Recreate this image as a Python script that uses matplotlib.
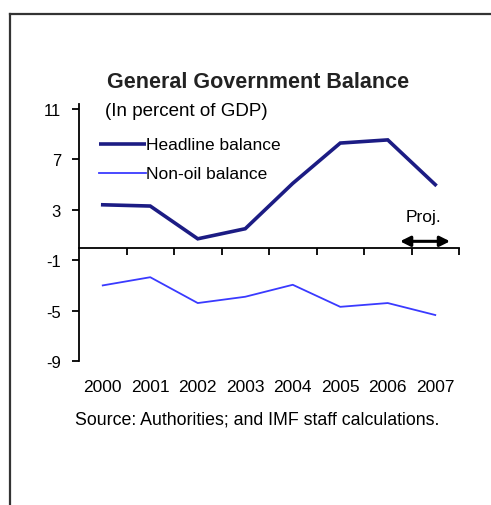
import matplotlib.pyplot as plt
from matplotlib.lines import Line2D

plt.rcParams['font.family'] = ['Liberation Sans', 'DejaVu Sans']

# Data
years = ['2000', '2001', '2002', '2003', '2004', '2005', '2006', '2007']
headline = [3.4, 3.3, 0.7, 1.5, 5.1, 8.3, 8.55, 5.0]
non_oil = [-3.0, -2.35, -4.4, -3.9, -2.95, -4.7, -4.4, -5.35]
yticks = [11, 7, 3, -1, -5, -9]

x = list(range(len(years)))

fig = plt.figure(figsize=(4.91, 5.06), dpi=100)
ax = fig.add_axes([79/491, 1-362/506, (459-79)/491, (362-105)/506])

ax.plot(x, headline, color='#1c1c84', lw=2.6, solid_joinstyle='miter')
ax.plot(x, non_oil, color='#3a3aff', lw=1.3)

ax.set_xlim(-0.5, 7.5)
ax.set_ylim(-9, 11.4)

# spines: only left, and bottom moved to zero
for s in ['top', 'right']:
    ax.spines[s].set_visible(False)
ax.spines['bottom'].set_position(('data', 0))
ax.spines['left'].set_linewidth(1.3)
ax.spines['bottom'].set_linewidth(1.3)

ax.set_yticks(yticks)
ax.set_yticklabels([str(v) for v in yticks], fontsize=12)
ax.tick_params(axis='y', direction='out', length=5, width=1.3, pad=8)

# x ticks at category boundaries, labels at bottom
ax.set_xticks([i + 0.5 for i in x])
ax.set_xticklabels([])
ax.tick_params(axis='x', direction='out', length=5, width=1.3)
for i, yr in enumerate(years):
    ax.text(i, -11.0, yr, ha='center', va='center', fontsize=12.5)

# legend, drawn by hand
ax.plot([-0.07, 0.9], [8.2, 8.2], color='#1c1c84', lw=2.6, solid_capstyle='butt')
ax.text(0.92, 8.2, 'Headline balance', va='center', ha='left', fontsize=12.5)
ax.plot([-0.07, 0.9], [5.9, 5.9], color='#3a3aff', lw=1.3)
ax.text(0.92, 5.9, 'Non-oil balance', va='center', ha='left', fontsize=12.5)

# projection marker
ax.annotate('', xy=(7.37, 0.5), xytext=(6.2, 0.5),
            arrowprops=dict(arrowstyle='<|-|>', color='black', lw=2.2, mutation_scale=15))
ax.text(6.75, 2.5, 'Proj.', ha='center', va='center', fontsize=12.5)

# titles
fig.text(258/491, 1-83/506, 'General Government Balance', ha='center', va='center',
         fontsize=15.5, fontweight='bold', color='#222222')
fig.text(105/491, 1-112/506, '(In percent of GDP)', ha='left', va='center', fontsize=13.5)
fig.text(257/491, 1-420/506, 'Source: Authorities; and IMF staff calculations.',
         ha='center', va='center', fontsize=12.8)

# outer frame
fx = 9.5/491
fy = 1-15/506
fig.add_artist(Line2D([fx, 1.0], [fy, fy], color='#333333', lw=1.6))
fig.add_artist(Line2D([fx, fx], [fy, 0.0], color='#333333', lw=1.6))

fig.savefig('out.png', dpi=100)
